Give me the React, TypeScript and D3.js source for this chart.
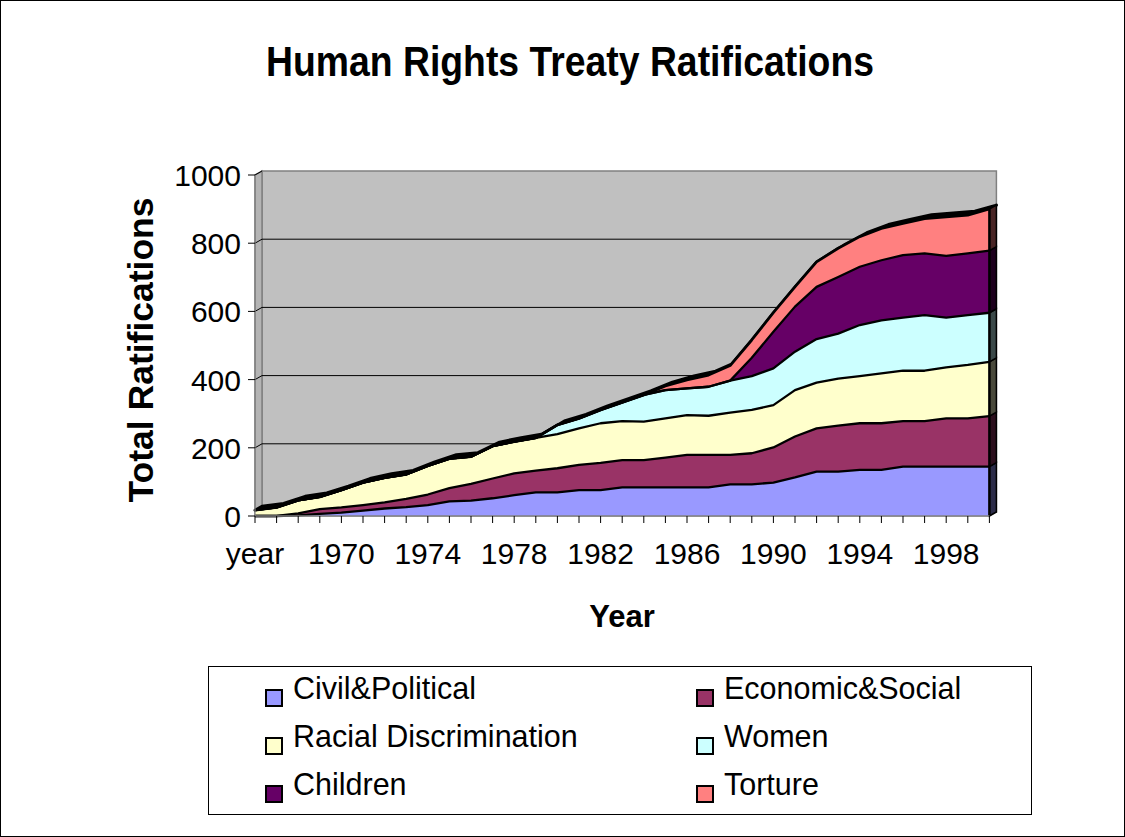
import React from 'react';
import * as d3 from 'd3';

const categories = [
  'year', '1967', '1968', '1969', '1970', '1971', '1972', '1973', '1974', '1975',
  '1976', '1977', '1978', '1979', '1980', '1981', '1982', '1983', '1984', '1985',
  '1986', '1987', '1988', '1989', '1990', '1991', '1992', '1993', '1994', '1995',
  '1996', '1997', '1998', '1999', '2000',
];
const tickLabels = ['year', '1970', '1974', '1978', '1982', '1986', '1990', '1994', '1998'];
const yTicks = [0, 200, 400, 600, 800, 1000];

const civil = [0, 0, 2, 6, 10, 16, 22, 26, 32, 43, 45, 52, 61, 69, 69, 76, 76, 84, 84, 84, 84, 84, 93, 93, 98, 113, 130, 130, 135, 135, 145, 145, 145, 145, 145];
const economic = [0, 0, 6, 14, 15, 16, 18, 24, 31, 39, 49, 58, 64, 64, 71, 74, 80, 80, 80, 87, 95, 95, 86, 91, 103, 120, 127, 135, 137, 137, 133, 133, 141, 141, 148];
const racial = [17, 25, 38, 36, 51, 66, 72, 72, 84, 86, 80, 95, 93, 96, 100, 107, 116, 114, 113, 115, 117, 115, 124, 127, 124, 136, 134, 138, 138, 146, 148, 148, 150, 157, 159];
const women = [0, 0, 0, 0, 0, 0, 0, 0, 0, 0, 0, 0, 0, 0, 27, 29, 39, 55, 78, 83, 78, 85, 94, 99, 108, 113, 128, 132, 150, 156, 156, 163, 146, 146, 144];
const children = [0, 0, 0, 0, 0, 0, 0, 0, 0, 0, 0, 0, 0, 0, 0, 0, 0, 0, 0, 0, 0, 0, 0, 54, 107, 132, 153, 166, 171, 176, 183, 181, 181, 181, 182];
const torture = [0, 0, 0, 0, 0, 0, 0, 0, 0, 0, 0, 0, 0, 0, 0, 0, 0, 0, 0, 12, 25, 34, 44, 52, 56, 58, 73, 84, 88, 93, 93, 102, 114, 112, 122];

const seriesNames = ['Civil&Political', 'Economic&Social', 'Racial Discrimination', 'Women', 'Children', 'Torture'];
const seriesColors = ['#9999FF', '#993366', '#FFFFCC', '#CCFFFF', '#660066', '#FF8080'];

const FONT = '"Liberation Sans", Arial, sans-serif';

export default function App() {
  const W = 1125;
  const H = 837;
  const DX = 7;
  const DY = -4;

  const xScale = d3.scalePoint<string>().domain(categories).range([255, 989.4]);
  const yScale = d3.scaleLinear().domain([0, 1000]).range([516, 175]);

  const values = [civil, economic, racial, women, children, torture];
  const rows = categories.map((c, i) => {
    const r: any = { cat: c };
    seriesNames.forEach((n, k) => (r[n] = values[k][i]));
    return r;
  });
  const stacked = d3.stack<any>().keys(seriesNames)(rows);

  const area = d3
    .area<any>()
    .x((d) => xScale(d.data.cat) as number)
    .y0((d) => yScale(d[0]))
    .y1((d) => yScale(d[1]));
  const topLine = d3
    .line<any>()
    .x((d) => xScale(d.data.cat) as number)
    .y((d) => yScale(d[1]));

  const xL = xScale(categories[0]) as number;
  const xR = xScale(categories[categories.length - 1]) as number;
  const yB = yScale(0);
  const yT = yScale(1000);

  const top = stacked[stacked.length - 1];
  const front = top.map((d) => [xScale(d.data.cat) as number, yScale(d[1])]);
  const back = front.map(([x, y]) => [x + DX, y + DY]).reverse();
  const roofPath = 'M' + front.concat(back).map((p) => p.join(',')).join('L') + 'Z';

  const rightFaces = stacked.map((s, k) => {
    const d = s[s.length - 1];
    const y0 = yScale(d[0]);
    const y1 = yScale(d[1]);
    if (d[1] - d[0] <= 0) return null;
    const pts = [
      [xR, y0],
      [xR + DX, y0 + DY],
      [xR + DX, y1 + DY],
      [xR, y1],
    ];
    return (
      <path
        key={'rf' + k}
        d={'M' + pts.map((p) => p.join(',')).join('L') + 'Z'}
        fill={d3.color(seriesColors[k])!.darker(3.5).toString()}
        stroke="#000"
        strokeWidth={1.5}
      />
    );
  });

  const legendLeft = [0, 2, 4];
  const legendRight = [1, 3, 5];
  const legendRows = [699, 747, 795];

  return (
    <svg
      width={W}
      height={H}
      style={{ position: 'absolute', left: 0, top: 0, display: 'block' }}
      fontFamily={FONT}
    >
      <rect x={0.5} y={0.5} width={W - 1} height={H - 1} fill="#fff" stroke="#000" strokeWidth={1} />

      <text x={570} y={76} fontSize={42} fontWeight="bold" textAnchor="middle" textLength={608} lengthAdjust="spacingAndGlyphs">
        Human Rights Treaty Ratifications
      </text>

      {/* walls */}
      <rect x={xL + DX} y={yT + DY} width={xR - xL} height={yB - yT} fill="#C0C0C0" stroke="#808080" strokeWidth={1.5} />
      <path
        d={`M${xL},${yT}L${xL + DX},${yT + DY}L${xL + DX},${yB + DY}L${xL},${yB}Z`}
        fill="#B4B4B4"
        stroke="#808080"
        strokeWidth={1.5}
      />
      <path
        d={`M${xL},${yB}L${xL + DX},${yB + DY}L${xR + DX},${yB + DY}L${xR},${yB}Z`}
        fill="#A8A8A8"
        stroke="#808080"
        strokeWidth={1}
      />
      {yTicks.map((t) => {
        const y = yScale(t);
        return (
          <g key={'g' + t}>
            {t > 0 && t < 1000 && (
              <line x1={xL + DX} x2={xR + DX} y1={y + DY} y2={y + DY} stroke="#000" strokeWidth={1} />
            )}
            <line x1={xL} x2={xL + DX} y1={y} y2={y + DY} stroke="#000" strokeWidth={1} />
          </g>
        );
      })}

      {/* roof and right faces */}
      <path d={roofPath} fill="#000" stroke="#000" strokeWidth={3} strokeLinejoin="round" />
      {rightFaces}

      {/* front faces */}
      {stacked.map((s, k) => (
        <path key={'a' + k} d={area(s) as string} fill={seriesColors[k]} stroke="none" />
      ))}
      {stacked.map((s, k) => (
        <path
          key={'l' + k}
          d={topLine(s) as string}
          fill="none"
          stroke="#000"
          strokeWidth={k === stacked.length - 1 ? 2.6 : 2.3}
          strokeLinejoin="round"
        />
      ))}
      <line x1={xR} x2={xR} y1={yB} y2={yScale(top[top.length - 1][1])} stroke="#000" strokeWidth={2.5} />

      {/* axes */}
      <line x1={xL} x2={xL} y1={yT} y2={yB} stroke="#808080" strokeWidth={1.2} />
      <line x1={xL} x2={xR} y1={yB} y2={yB} stroke="#808080" strokeWidth={1.5} />
      {yTicks.map((t) => (
        <g key={'yt' + t}>
          <line x1={xL - 7} x2={xL} y1={yScale(t)} y2={yScale(t)} stroke="#000" strokeWidth={1} />
          <text x={xL - 14} y={yScale(t) + 11} fontSize={30} textAnchor="end">
            {t}
          </text>
        </g>
      ))}
      {categories.map((c) => (
        <line key={'xt' + c} x1={xScale(c)} x2={xScale(c)} y1={yB} y2={yB + 7} stroke="#000" strokeWidth={1} />
      ))}
      {tickLabels.map((c) => (
        <text key={'xl' + c} x={xScale(c)} y={564} fontSize={30} textAnchor="middle">
          {c}
        </text>
      ))}

      <text x={622} y={627} fontSize={31} fontWeight="bold" textAnchor="middle">
        Year
      </text>
      <text
        transform="translate(153,350) rotate(-90)"
        fontSize={35}
        fontWeight="bold"
        textAnchor="middle"
        textLength={305}
        lengthAdjust="spacingAndGlyphs"
      >
        Total Ratifications
      </text>

      {/* legend */}
      <rect x={208.5} y={666.5} width={823} height={148} fill="#fff" stroke="#000" strokeWidth={1} />
      {legendLeft.map((k, r) => (
        <g key={'ll' + k}>
          <rect x={266} y={legendRows[r] - 9} width={16} height={16} fill={seriesColors[k]} stroke="#000" strokeWidth={2} />
          <text x={293} y={legendRows[r]} fontSize={30.5}>
            {seriesNames[k]}
          </text>
        </g>
      ))}
      {legendRight.map((k, r) => (
        <g key={'lr' + k}>
          <rect x={697} y={legendRows[r] - 9} width={16} height={16} fill={seriesColors[k]} stroke="#000" strokeWidth={2} />
          <text x={724} y={legendRows[r]} fontSize={30.5}>
            {seriesNames[k]}
          </text>
        </g>
      ))}
    </svg>
  );
}
